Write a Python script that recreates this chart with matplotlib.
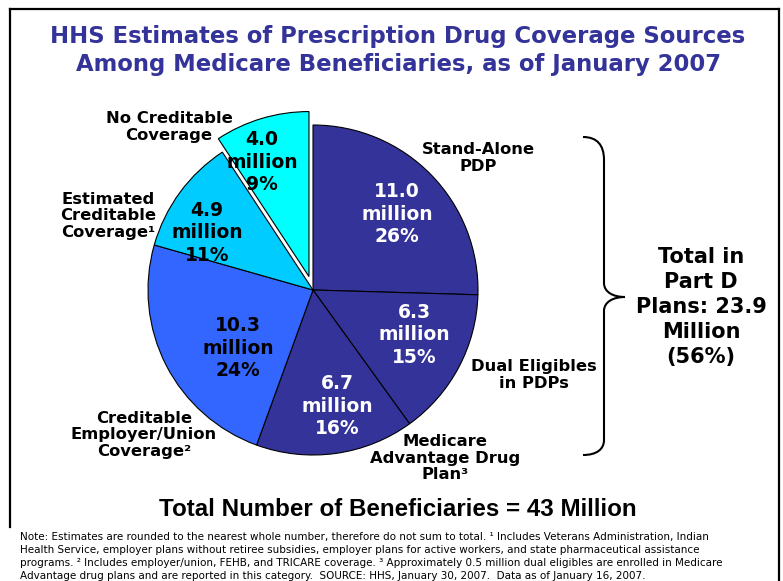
import matplotlib
matplotlib.use("Agg")
import matplotlib.pyplot as plt
from matplotlib.path import Path
from matplotlib.patches import PathPatch
import numpy as np

# data (millions of beneficiaries), clockwise from 12 o'clock
categories = ["Stand-Alone PDP", "Dual Eligibles in PDPs", "Medicare Advantage Drug Plan",
              "Creditable Employer/Union Coverage", "Estimated Creditable Coverage",
              "No Creditable Coverage"]
millions = [11.0, 6.3, 6.7, 10.3, 4.9, 4.0]
percents = [26, 15, 16, 24, 11, 9]
colors = ["#333399", "#333399", "#333399", "#3366FF", "#00CCFF", "#00FFFF"]
explode = [0, 0, 0, 0, 0, 0.085]
text_colors = ["white", "white", "white", "black", "black", "black"]

outer_labels = ["Stand-Alone\nPDP", "Dual Eligibles\nin PDPs", "Medicare\nAdvantage Drug\nPlan³",
                "Creditable\nEmployer/Union\nCoverage²", "Estimated\nCreditable\nCoverage¹",
                "No Creditable\nCoverage"]

part_d_total = 23.9
part_d_pct = 56
total_benef = 43

W, H = 783, 581
# pixel layout (x, y from top-left)
cx, cy, R = 313, 290, 165
inner_pos = [(397, 214), (414, 335), (337, 406), (238, 348), (207, 233), (262, 162)]
outer_pos = [(478, 158), (534, 375), (445, 458), (144, 435), (108, 216), (169, 127)]

fig = plt.figure(figsize=(W / 100, H / 100), dpi=100)
fig.patch.set_facecolor("white")

# pie axes, sized so the unit circle maps to radius R px
k = 1.3
ax = fig.add_axes([(cx - k * R) / W, (H - cy - k * R) / H, 2 * k * R / W, 2 * k * R / H])
ax.pie(millions, colors=colors, explode=explode, startangle=90, counterclock=False,
       radius=1, wedgeprops=dict(edgecolor="black", linewidth=0.8))
ax.set_xlim(-k, k)
ax.set_ylim(-k, k)
ax.set_aspect("equal")
ax.axis("off")

# overlay in pixel coordinates
ov = fig.add_axes([0, 0, 1, 1], zorder=5)
ov.set_xlim(0, W)
ov.set_ylim(H, 0)
ov.axis("off")
ov.patch.set_alpha(0)

# frame
ov.plot([10, 779], [9, 9], color="black", lw=1.6, solid_capstyle="projecting")
ov.plot([10, 10], [9, 527], color="black", lw=1.6)
ov.plot([779, 779], [9, 581], color="black", lw=1.6)

# title
ov.text(398, 37, "HHS Estimates of Prescription Drug Coverage Sources", ha="center", va="center",
        fontsize=16.4, fontweight="bold", color="#333399")
ov.text(398, 65, "Among Medicare Beneficiaries, as of January 2007", ha="center", va="center",
        fontsize=16.4, fontweight="bold", color="#333399")

# slice labels
for i in range(len(millions)):
    x, y = inner_pos[i]
    ov.text(x, y, f"{millions[i]:.1f}\nmillion\n{percents[i]}%", ha="center", va="center",
            fontsize=13.5, fontweight="bold", color=text_colors[i], linespacing=1.25)
    x, y = outer_pos[i]
    ov.text(x, y, outer_labels[i], ha="center", va="center", fontsize=11.8,
            fontweight="bold", color="black", linespacing=1.12)

# brace
verts = [(583, 137), (597, 137), (604, 145), (604, 160),
         (604, 283),
         (604, 292), (613, 297), (625, 297),
         (613, 297), (604, 302), (604, 311),
         (604, 440),
         (604, 449), (597, 455), (583, 455)]
codes = [Path.MOVETO, Path.CURVE4, Path.CURVE4, Path.CURVE4,
         Path.LINETO,
         Path.CURVE4, Path.CURVE4, Path.CURVE4,
         Path.CURVE4, Path.CURVE4, Path.CURVE4,
         Path.LINETO,
         Path.CURVE4, Path.CURVE4, Path.CURVE4]
ov.add_patch(PathPatch(Path(verts, codes), facecolor="none", edgecolor="black", lw=1.5))

ov.text(701, 307, f"Total in\nPart D\nPlans: {part_d_total}\nMillion\n({part_d_pct}%)",
        ha="center", va="center", fontsize=15, fontweight="bold", linespacing=1.3)

ov.text(398, 509, f"Total Number of Beneficiaries = {total_benef} Million", ha="center",
        va="center", fontsize=17.4, fontweight="bold", family="Liberation Sans")

notes = [
    "Note: Estimates are rounded to the nearest whole number, therefore do not sum to total. ¹ Includes Veterans Administration, Indian",
    "Health Service, employer plans without retiree subsidies, employer plans for active workers, and state pharmaceutical assistance",
    "programs. ² Includes employer/union, FEHB, and TRICARE coverage. ³ Approximately 0.5 million dual eligibles are enrolled in Medicare",
    "Advantage drug plans and are reported in this category.  SOURCE: HHS, January 30, 2007.  Data as of January 16, 2007.",
]
for j, line in enumerate(notes):
    ov.text(20, 537 + 13 * j, line, ha="left", va="center", fontsize=7.5)

fig.savefig("out.png", dpi=100)
